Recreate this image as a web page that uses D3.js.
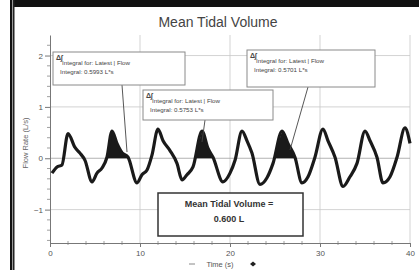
<!DOCTYPE html>
<html><head><meta charset="utf-8">
<script src="https://cdn.jsdelivr.net/npm/d3@7"></script>
<style>
html,body{margin:0;padding:0;background:#fff;}
svg{display:block;font-family:"Liberation Sans",Arial,sans-serif;}
</style></head>
<body><svg id="c" width="419" height="270"></svg>
<script>
// ---- data ----
const title = "Mean Tidal Volume";
const xLabel = "Time (s)";
const yLabel = "Flow Rate (L/s)";
const xTicks = [0, 10, 20, 30, 40];
const yTicks = [-1, 0, 1, 2];
const time = [0.22,0.78,1.33,2.0,2.78,3.33,3.89,4.67,5.22,5.78,6.33,6.89,7.44,8.0,8.67,9.67,10.22,10.78,11.33,12.0,12.56,13.33,14.11,14.67,15.22,15.89,16.89,17.56,18.11,19.22,20.0,20.56,21.33,21.89,22.44,23.33,24.11,24.78,25.78,26.44,27.22,28.0,28.67,29.44,30.33,30.89,31.67,32.56,33.33,34.11,35.0,35.56,36.33,37.0,37.78,38.56,39.44,40.0];
const flow = [-0.29,-0.17,-0.13,0.48,0.21,0.10,-0.04,-0.46,-0.29,-0.19,0.02,0.53,0.29,0.11,0.02,-0.48,-0.32,-0.23,0.06,0.57,0.34,0.15,-0.10,-0.42,-0.32,-0.17,0.53,0.19,0.02,-0.46,-0.29,-0.04,0.53,0.34,0.10,-0.51,-0.38,-0.10,0.53,0.29,0.02,-0.48,-0.36,0.02,0.57,0.34,0.02,-0.55,-0.36,-0.10,0.53,0.34,0.02,-0.48,-0.36,0.02,0.59,0.29];
const shadeStart = [6.3, 16.13, 24.9];
const shadeEnd = [8.75, 18.2, 27.3];
const boxLine1 = ["Integral for: Latest | Flow", "Integral for: Latest | Flow", "Integral for: Latest | Flow"];
const boxLine2 = ["Integral: 0.5993 L*s", "Integral: 0.5753 L*s", "Integral: 0.5701 L*s"];
const resultLines = ["Mean Tidal Volume =", "0.600 L"];

// ---- chart ----
const svg = d3.select("#c");
const x = d3.scaleLinear().domain([0, 40]).range([50, 410]);
const y = d3.scaleLinear().domain([-1.65, 2.4]).range([243, 35]);

// window frame bits
svg.append("rect").attr("x", 10).attr("y", 0).attr("width", 409).attr("height", 7).attr("fill", "#111");
svg.append("rect").attr("x", 10).attr("y", 0).attr("width", 2).attr("height", 270).attr("fill", "#111");
svg.append("rect").attr("x", 12).attr("y", 0).attr("width", 1).attr("height", 270).attr("fill", "#999");
svg.append("rect").attr("x", 13).attr("y", 0).attr("width", 1.5).attr("height", 270).attr("fill", "#222");

// title
svg.append("text").attr("x", 218).attr("y", 27).attr("text-anchor", "middle")
  .attr("font-size", 14).attr("fill", "#444").text(title);

// grid
const g = svg.append("g");
g.selectAll(".gx").data(xTicks.filter(d => d > 0)).join("line")
  .attr("x1", d => x(d)).attr("x2", d => x(d)).attr("y1", y(2.4)).attr("y2", y(-1.65))
  .attr("stroke", "#c8c8c8").attr("stroke-width", 0.8);
g.selectAll(".gy").data(yTicks).join("line")
  .attr("x1", x(0)).attr("x2", x(40)).attr("y1", d => y(d)).attr("y2", d => y(d))
  .attr("stroke", d => d === 0 ? "#a0a0a0" : "#c8c8c8").attr("stroke-width", 0.8);

// minor ticks
svg.selectAll(".ym").data(d3.range(-8, 12).map(i => i * 0.2).filter(v => Math.abs(v - Math.round(v)) > 0.01))
  .join("line").attr("x1", x(0) - 3).attr("x2", x(0)).attr("y1", d => y(d)).attr("y2", d => y(d))
  .attr("stroke", "#888").attr("stroke-width", 0.8);
svg.selectAll(".xm").data(d3.range(1, 20).map(i => i * 2).filter(v => v % 10 !== 0))
  .join("line").attr("x1", d => x(d)).attr("x2", d => x(d)).attr("y1", y(-1.65) - 2).attr("y2", y(-1.65) + 2)
  .attr("stroke", "#888").attr("stroke-width", 0.8);

// axes
const ax = svg.append("g").attr("transform", `translate(0,${y(-1.65)})`)
  .call(d3.axisBottom(x).tickValues(xTicks).tickFormat(d3.format("d")).tickSize(4).tickPadding(3).tickSizeOuter(0));
const ay = svg.append("g").attr("transform", `translate(${x(0)},0)`)
  .call(d3.axisLeft(y).tickValues(yTicks).tickFormat(d3.format("d")).tickSize(5).tickPadding(2).tickSizeOuter(0));
[ax, ay].forEach(a => {
  a.select(".domain").attr("stroke", "#777").attr("stroke-width", 1);
  a.selectAll(".tick line").attr("stroke", "#777");
  a.selectAll("text").attr("font-size", 8).attr("fill", "#555").attr("font-family", "Liberation Sans, Arial, sans-serif");
});

// axis labels
svg.append("text").attr("x", 220).attr("y", 267).attr("text-anchor", "middle")
  .attr("font-size", 7.5).attr("fill", "#555").text(xLabel);
svg.append("line").attr("x1", 189).attr("x2", 195).attr("y1", 264).attr("y2", 264).attr("stroke", "#888");
svg.append("path").attr("d", "M250,264 l3,-2.5 l3,2.5 l-3,2.5z").attr("fill", "#222");
svg.append("text").attr("transform", "translate(28,143) rotate(-90)").attr("text-anchor", "middle")
  .attr("font-size", 7.5).attr("fill", "#666").text(yLabel);

// data points
const pts = time.map((t, i) => [t, flow[i]]);
function interp(t) {
  for (let i = 0; i < pts.length - 1; i++) {
    if (t >= pts[i][0] && t <= pts[i + 1][0]) {
      const f = (t - pts[i][0]) / (pts[i + 1][0] - pts[i][0]);
      return pts[i][1] + f * (pts[i + 1][1] - pts[i][1]);
    }
  }
  return 0;
}
// shaded integrals
shadeStart.forEach((s, k) => {
  const e = shadeEnd[k];
  const seg = [[s, interp(s)]].concat(pts.filter(p => p[0] > s && p[0] < e)).concat([[e, interp(e)]]);
  svg.append("path").datum(seg)
    .attr("d", d3.area().x(d => x(d[0])).y0(y(0)).y1(d => y(Math.max(0, d[1]))))
    .attr("fill", "#1a1a1a");
});

// line
svg.append("path").datum(pts)
  .attr("d", d3.line().x(d => x(d[0])).y(d => y(d[1])).curve(d3.curveMonotoneX))
  .attr("fill", "none").attr("stroke", "#1a1a1a").attr("stroke-width", 3.2)
  .attr("stroke-linejoin", "round");

// pointer lines
const pointers = [[122, 85, 127, 152], [205, 120, 202, 142], [308, 87, 290, 150]];
pointers.forEach(p => svg.append("line").attr("x1", p[0]).attr("y1", p[1]).attr("x2", p[2]).attr("y2", p[3])
  .attr("stroke", "#444").attr("stroke-width", 0.9));

// annotation boxes
const boxes = [[53, 52, 132, 33], [143, 90, 130, 30], [247, 50, 128, 37]];
boxes.forEach((b, i) => {
  const gb = svg.append("g");
  gb.append("rect").attr("x", b[0]).attr("y", b[1]).attr("width", b[2]).attr("height", b[3])
    .attr("fill", "#fff").attr("stroke", "#8a8a8a").attr("stroke-width", 1);
  gb.append("text").attr("x", b[0] + 3).attr("y", b[1] + 8).attr("font-size", 7).attr("font-weight", "bold")
    .attr("fill", "#444").text("Δ∫");
  gb.append("text").attr("x", b[0] + 9).attr("y", b[1] + 13).attr("font-size", 6.2).attr("fill", "#444").text(boxLine1[i]);
  gb.append("text").attr("x", b[0] + 7).attr("y", b[1] + 22).attr("font-size", 6.2).attr("fill", "#444").text(boxLine2[i]);
});

// result box
svg.append("rect").attr("x", 158).attr("y", 193).attr("width", 145).attr("height", 43)
  .attr("fill", "#fff").attr("stroke", "#333").attr("stroke-width", 1.5);
resultLines.forEach((t, i) => svg.append("text").attr("x", 229).attr("y", 207 + i * 15)
  .attr("text-anchor", "middle").attr("font-size", 9).attr("font-weight", "bold").attr("fill", "#333").text(t));
</script></body></html>
